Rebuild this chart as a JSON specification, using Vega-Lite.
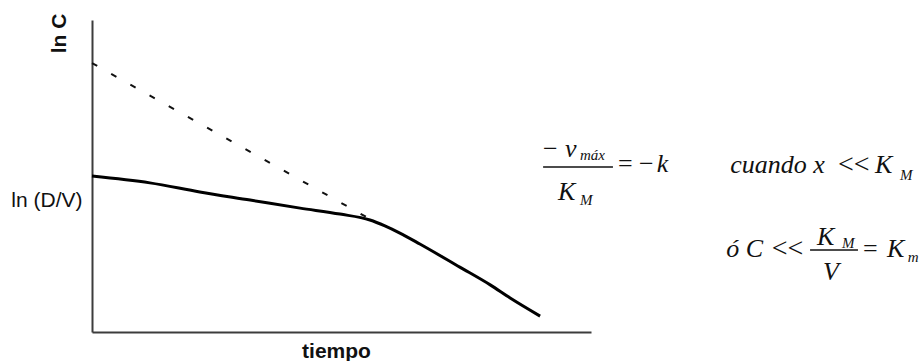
{
  "$schema": "https://vega.github.io/schema/vega-lite/v6.json",
  "width": 499,
  "height": 312,
  "autosize": {"type": "none"},
  "padding": {"left": 92, "top": 20, "right": 332, "bottom": 29},
  "background": "white",
  "config": {"view": {"stroke": null}},
  "datasets": {
    "concentracion": [
      {"t": 0, "lnC": 5.0},
      {"t": 1.16, "lnC": 4.78},
      {"t": 2.16, "lnC": 4.49},
      {"t": 3.17, "lnC": 4.23},
      {"t": 4.17, "lnC": 3.97},
      {"t": 4.97, "lnC": 3.78},
      {"t": 5.57, "lnC": 3.59},
      {"t": 5.87, "lnC": 3.4},
      {"t": 6.17, "lnC": 3.17},
      {"t": 6.57, "lnC": 2.82},
      {"t": 7.37, "lnC": 2.08},
      {"t": 7.98, "lnC": 1.51},
      {"t": 8.38, "lnC": 1.09},
      {"t": 8.98, "lnC": 0.51}
    ],
    "extrapolacion": [
      {"t": 0, "lnC": 8.62},
      {"t": 5.67, "lnC": 3.53}
    ],
    "cursiva": [
      {"t": 9.48, "lnC": 5.61, "label": "v"},
      {"t": 9.34, "lnC": 4.23, "label": "K"},
      {"t": 11.32, "lnC": 5.13, "label": "k"},
      {"t": 12.79, "lnC": 5.1, "label": "cuando x"},
      {"t": 15.69, "lnC": 5.1, "label": "K"},
      {"t": 12.71, "lnC": 2.4, "label": "ó C"},
      {"t": 14.53, "lnC": 2.79, "label": "K"},
      {"t": 14.65, "lnC": 1.67, "label": "V"},
      {"t": 15.93, "lnC": 2.4, "label": "K"}
    ],
    "subindices": [
      {"t": 9.78, "lnC": 5.51, "label": "máx"},
      {"t": 9.78, "lnC": 4.07, "label": "M"},
      {"t": 16.19, "lnC": 4.87, "label": "M"},
      {"t": 15.03, "lnC": 2.69, "label": "M"},
      {"t": 16.35, "lnC": 2.24, "label": "m"}
    ],
    "operadores": [
      {"t": 9.04, "lnC": 5.61, "label": "−"},
      {"t": 10.54, "lnC": 5.13, "label": "= −"},
      {"t": 15.45, "lnC": 2.4, "label": "="}
    ],
    "desigualdades": [
      {"t": 14.95, "lnC": 5.1, "label": "<<"},
      {"t": 13.62, "lnC": 2.4, "label": "<<"}
    ],
    "fracciones": [
      {"t": 9.04, "t2": 10.44, "lnC": 5.29},
      {"t": 14.39, "t2": 15.35, "lnC": 2.63}
    ]
  },
  "encoding": {
    "x": {
      "field": "t",
      "type": "quantitative",
      "scale": {"domain": [0, 10], "nice": false, "zero": false},
      "axis": {
        "title": "tiempo",
        "grid": false,
        "ticks": false,
        "labels": false,
        "domainColor": "#3c3c3c",
        "domainWidth": 2,
        "titleFont": "Liberation Sans",
        "titleFontSize": 21,
        "titleFontWeight": "bold",
        "titleColor": "#111111",
        "titleX": 244,
        "titleY": 25,
        "titleAlign": "center",
        "titleBaseline": "alphabetic"
      }
    },
    "y": {
      "field": "lnC",
      "type": "quantitative",
      "scale": {"domain": [0, 10], "nice": false, "zero": false},
      "axis": {
        "title": "ln C",
        "grid": false,
        "ticks": false,
        "tickSize": 0,
        "values": [4.2],
        "labelExpr": "'ln (D/V)'",
        "labelFont": "Liberation Sans",
        "labelFontSize": 21,
        "labelColor": "#111111",
        "labelPadding": 10,
        "labelBaseline": "middle",
        "labelOverlap": false,
        "labelFlush": false,
        "domainColor": "#3c3c3c",
        "domainWidth": 2,
        "titleFont": "Liberation Sans",
        "titleFontSize": 21,
        "titleFontWeight": "bold",
        "titleColor": "#111111",
        "titleAngle": 270,
        "titleX": -33,
        "titleY": 13,
        "titleAlign": "center",
        "titleBaseline": "middle"
      }
    }
  },
  "layer": [
    {
      "data": {"name": "extrapolacion"},
      "mark": {"type": "line", "color": "#111111", "strokeWidth": 2, "strokeDash": [6, 16]}
    },
    {
      "data": {"name": "concentracion"},
      "mark": {"type": "line", "color": "#000000", "strokeWidth": 3, "interpolate": "monotone"}
    },
    {
      "data": {"name": "fracciones"},
      "mark": {"type": "rule", "color": "#111111", "strokeWidth": 1.5},
      "encoding": {"x2": {"field": "t2"}}
    },
    {
      "data": {"name": "cursiva"},
      "mark": {"type": "text", "font": "Liberation Serif", "fontStyle": "italic", "fontSize": 26, "align": "left", "baseline": "alphabetic", "color": "#111111"},
      "encoding": {"text": {"field": "label"}}
    },
    {
      "data": {"name": "subindices"},
      "mark": {"type": "text", "font": "Liberation Serif", "fontStyle": "italic", "fontSize": 15, "align": "left", "baseline": "alphabetic", "color": "#111111"},
      "encoding": {"text": {"field": "label"}}
    },
    {
      "data": {"name": "operadores"},
      "mark": {"type": "text", "font": "Liberation Serif", "fontSize": 26, "align": "left", "baseline": "alphabetic", "color": "#111111"},
      "encoding": {"text": {"field": "label"}}
    },
    {
      "data": {"name": "desigualdades"},
      "mark": {"type": "text", "font": "Liberation Serif", "fontSize": 28, "align": "left", "baseline": "alphabetic", "color": "#111111"},
      "encoding": {"text": {"field": "label"}}
    }
  ]
}
